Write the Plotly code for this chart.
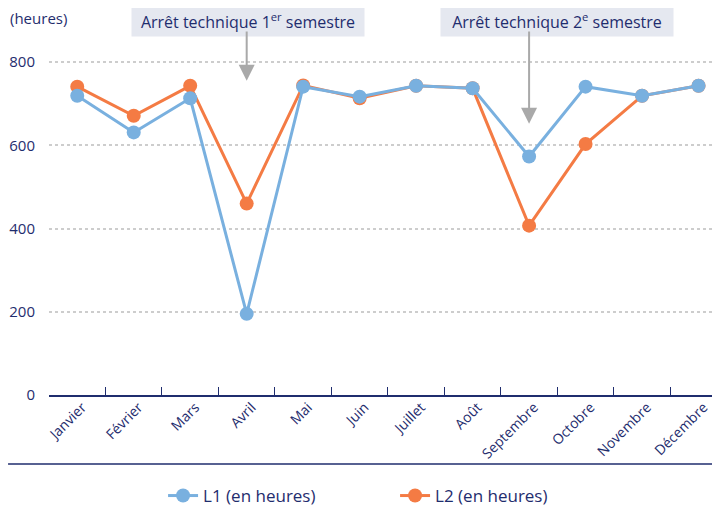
import plotly.graph_objects as go

# mois et heures de fonctionnement des deux lignes
mois = ['Janvier', 'Février', 'Mars', 'Avril', 'Mai', 'Juin', 'Juillet',
        'Août', 'Septembre', 'Octobre', 'Novembre', 'Décembre']
l1_heures = [719, 631, 713, 195, 741, 717, 743, 737, 573, 741, 719, 743]
l2_heures = [741, 671, 743, 460, 744, 713, 743, 737, 407, 603, 719, 743]
y_ticks = [0, 200, 400, 600, 800]

NAVY = '#1f2d6e'
BLUE = '#79b0df'
ORANGE = '#f47b44'
FONT = 'Open Sans'

fig = go.Figure()

# L2 en dessous, L1 au-dessus
fig.add_trace(go.Scatter(x=mois, y=l2_heures, name='L2 (en heures)',
                         mode='lines+markers', line=dict(color=ORANGE, width=3),
                         marker=dict(color=ORANGE, size=14)))
fig.add_trace(go.Scatter(x=mois, y=l1_heures, name='L1 (en heures)',
                         mode='lines+markers', line=dict(color=BLUE, width=3),
                         marker=dict(color=BLUE, size=14)))

fig.update_xaxes(type='category', range=[-0.5, 11.38], showline=True,
                 linecolor=NAVY, linewidth=1.5, ticks='inside', ticklen=8,
                 tickcolor=NAVY, tickwidth=1, tickson='boundaries',
                 tickangle=-45, showgrid=False, ticklabelshift=5,
                 ticklabelstandoff=-3, automargin=False,
                 tickfont=dict(family=FONT, size=14, color=NAVY))
fig.update_yaxes(range=[0, 930], tickvals=y_ticks, showgrid=True,
                 gridcolor='#cdcdcd', griddash='dot', gridwidth=1.5,
                 zeroline=False, showline=False, ticklabelstandoff=13,
                 automargin=False,
                 tickfont=dict(family=FONT, size=15, color=NAVY))

# étiquettes des arrêts techniques
for xpos, txt in [(3.03, 'Arrêt technique 1<sup>er</sup> semestre'),
                  (8.5, 'Arrêt technique 2<sup>e</sup> semestre')]:
    fig.add_annotation(x=xpos, y=899, xref='x', yref='y', text=txt,
                       showarrow=False, bgcolor='#e5e8f0', width=224,
                       height=22, borderpad=4,
                       font=dict(family=FONT, size=16, color=NAVY))

# flèches
for xpos, tip in [(3, 755), (8, 652)]:
    fig.add_annotation(x=xpos, y=tip, xref='x', yref='y', ax=xpos, ay=877,
                       axref='x', ayref='y', text='', showarrow=True,
                       arrowhead=2, arrowsize=1.6, arrowwidth=2,
                       arrowcolor='#a9a9a9')

fig.add_annotation(x=-0.061, y=1.0, xref='paper', yref='paper',
                   xanchor='left', yanchor='middle', yshift=-10,
                   text='(heures)', showarrow=False,
                   font=dict(family=FONT, size=15, color=NAVY))

# ligne de séparation au-dessus de la légende
fig.add_shape(type='line', xref='paper', yref='paper', x0=-0.061, x1=1,
              y0=-0.178, y1=-0.178, line=dict(color=NAVY, width=1.5))

# la page ajoute 8 px de marge autour de la figure
fig.update_layout(width=712, height=506, plot_bgcolor='white',
                  paper_bgcolor='white',
                  margin=dict(l=41, r=0, t=0, b=115),
                  legend=dict(orientation='h', x=0.17, xanchor='left',
                              y=-0.262, yanchor='middle', traceorder='reversed',
                              entrywidth=187,
                              font=dict(family=FONT, size=17, color=NAVY)))

fig.write_html('out.html')
